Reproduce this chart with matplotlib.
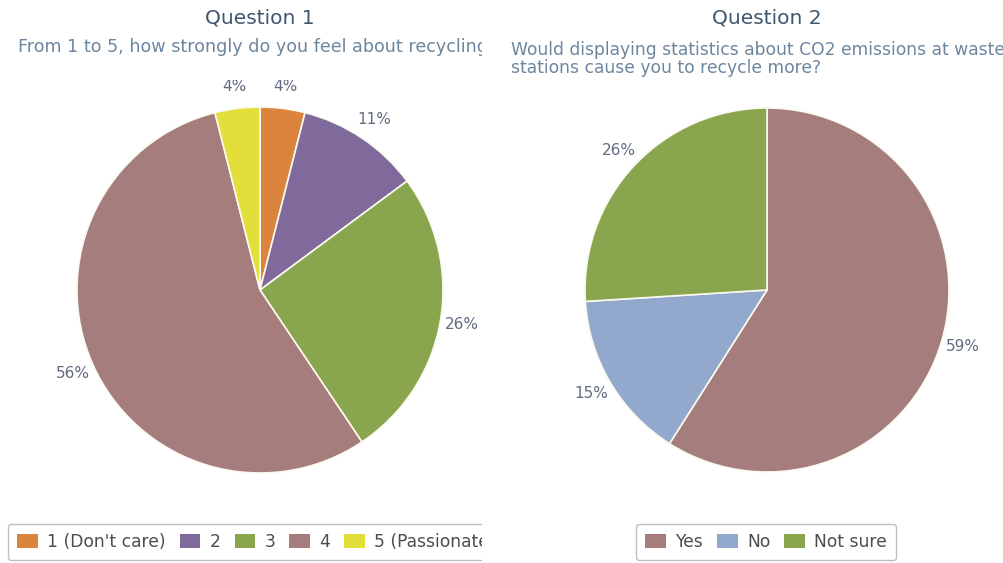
import matplotlib.pyplot as plt
from matplotlib.patches import Rectangle
from matplotlib.transforms import Bbox, TransformedBbox

# survey results (percent)
q1_labels = ["1 (Don't care)", "2", "3", "4", "5 (Passionate)"]
q1_values = [4, 11, 26, 56, 4]
q1_colors = ['#DB843D', '#80699B', '#89A54E', '#A47D7C', '#E3DF3A']

q2_labels = ['Yes', 'No', 'Not sure']
q2_values = [59, 15, 26]
q2_colors = ['#A47D7C', '#92A8CD', '#89A54E']

W, H = 1004, 563
TITLE_C = '#3E576F'
SUB_C = '#6D869F'
LABEL_C = '#606C80'

fig = plt.figure(figsize=(W / 100, H / 100), dpi=100)
fig.patch.set_facecolor('white')


def px_box(x0, y0, x1, y1):
    # pixel box (top-down y) -> figure fraction clip box
    return TransformedBbox(Bbox.from_extents(x0 / W, 1 - y1 / H, x1 / W, 1 - y0 / H),
                           fig.transFigure)


def make_pie(values, colors, cx, cy, r, x0, x1):
    y0, y1 = 80, 515
    ax = fig.add_axes([x0 / W, 1 - y1 / H, (x1 - x0) / W, (y1 - y0) / H])
    wedges, texts = ax.pie(values, colors=colors, startangle=90, counterclock=False,
                           labels=[f'{v}%' for v in values], labeldistance=1.12,
                           wedgeprops=dict(edgecolor='#FBFAF0', linewidth=1.2),
                           textprops=dict(color=LABEL_C, fontsize=11))
    # pie() resets the limits, so set them afterwards
    ax.set_aspect('auto')
    ax.set_xlim((x0 - cx) / r, (x1 - cx) / r)
    ax.set_ylim((cy - y1) / r, (cy - y0) / r)
    ax.axis('off')
    for t in texts:
        t.set_ha('center')
        t.set_clip_on(True)
    return ax


def make_legend(labels, colors, x0, clip_x1):
    y0, y1 = 523, 561
    handles = [Rectangle((0, 0), 1, 1, facecolor=c, edgecolor='none') for c in colors]
    leg = fig.legend(handles, labels, loc='center left', ncol=len(labels),
                     bbox_to_anchor=(x0 / W, 1 - (y0 + y1) / 2 / H),
                     frameon=True, fancybox=True, fontsize=12.3,
                     handlelength=1.2, handleheight=0.95, handletextpad=0.55,
                     columnspacing=0.82, borderpad=0.55, borderaxespad=0,
                     labelcolor='#4D4D4D')
    frame = leg.get_frame()
    frame.set_edgecolor('#B0B0B0')
    frame.set_linewidth(1.0)
    box = px_box(0, 500, clip_x1, H)
    for a in leg.findobj():
        a.set_clip_box(box)
        a.set_clip_on(True)
    return leg


make_pie(q1_values, q1_colors, 260, 290, 183, 0, 482)
make_pie(q2_values, q2_colors, 767, 290, 182, 502, 1004)

fig.text(260 / W, 1 - 18 / H, 'Question 1', ha='center', va='center',
         fontsize=14.5, color=TITLE_C)
fig.text(767 / W, 1 - 18 / H, 'Question 2', ha='center', va='center',
         fontsize=14.5, color=TITLE_C)

sub1 = fig.text(258 / W, 1 - 47 / H, 'From 1 to 5, how strongly do you feel about recycling?',
                ha='center', va='center', fontsize=12.6, color=SUB_C)
sub1.set_clip_box(px_box(0, 0, 482, 100))
sub1.set_clip_on(True)

fig.text(511 / W, 1 - 50 / H, 'Would displaying statistics about CO2 emissions at waste',
         ha='left', va='center', fontsize=12.3, color=SUB_C)
fig.text(511 / W, 1 - 68 / H, 'stations cause you to recycle more?',
         ha='left', va='center', fontsize=12.3, color=SUB_C)

make_legend(q1_labels, q1_colors, 8, 482)
make_legend(q2_labels, q2_colors, 636, W)

fig.savefig('out.png', dpi=100, facecolor='white')
